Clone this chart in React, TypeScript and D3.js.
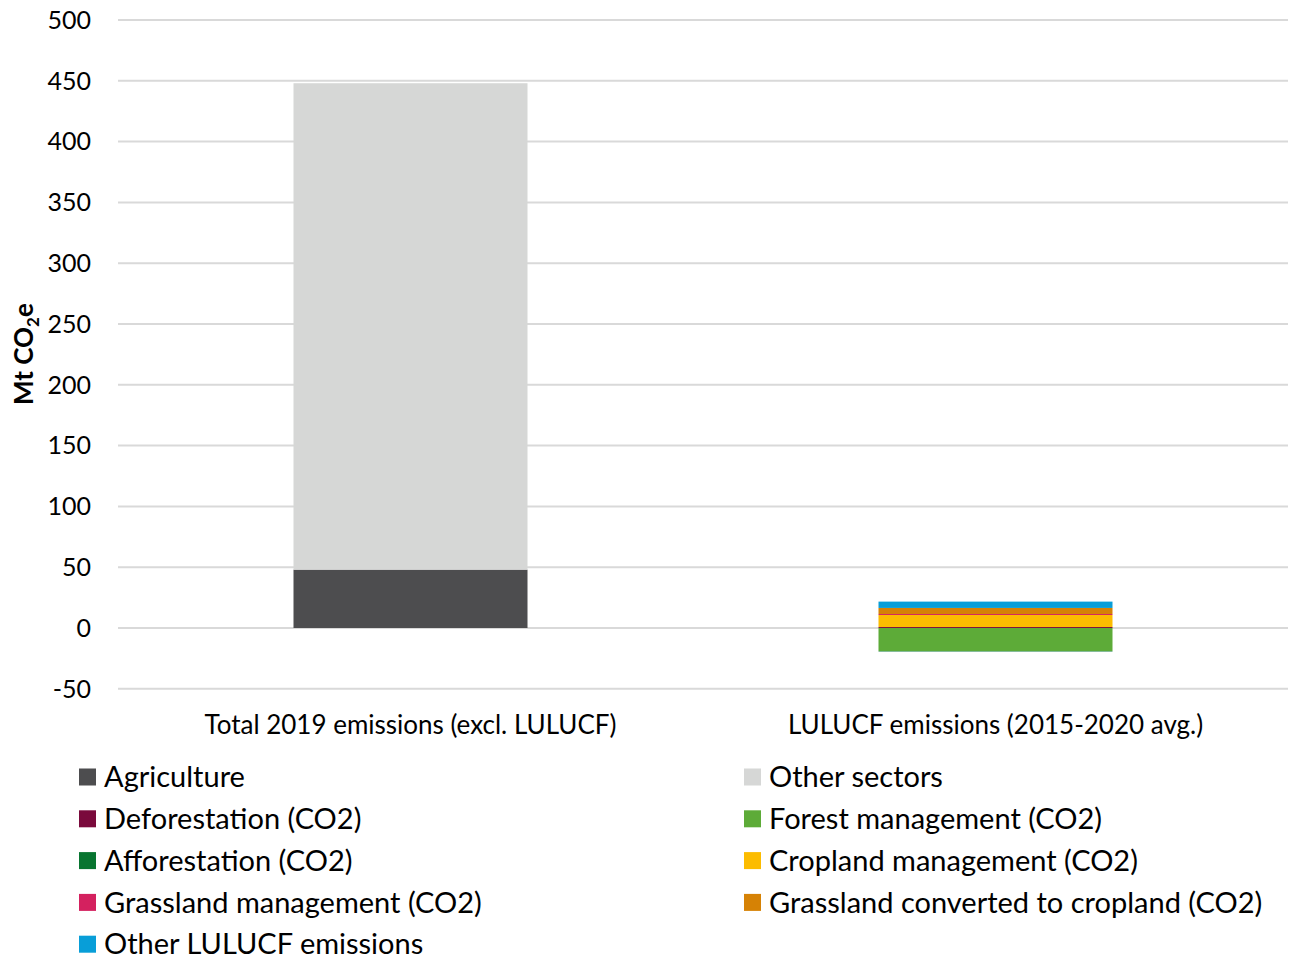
import React from "react";
import * as d3 from "d3";

const categories = ["Total 2019 emissions (excl. LULUCF)", "LULUCF emissions (2015-2020 avg.)"];

const seriesNames = [
  "Agriculture",
  "Other sectors",
  "Deforestation (CO2)",
  "Forest management (CO2)",
  "Afforestation (CO2)",
  "Cropland management (CO2)",
  "Grassland management (CO2)",
  "Grassland converted to cropland (CO2)",
  "Other LULUCF emissions",
];

const seriesColors = [
  "#4d4d4f",
  "#d6d7d6",
  "#7a0a3c",
  "#5dab38",
  "#087530",
  "#fcbc00",
  "#d4215f",
  "#d68205",
  "#089ed8",
];

// Values per category, Mt CO2e
const agriculture = [48, 0];
const otherSectors = [400, 0];
const deforestation = [0, 0.8];
const forestManagement = [0, -18.9];
const afforestation = [0, -0.3];
const croplandManagement = [0, 9.9];
const grasslandManagement = [0, 0.8];
const grasslandConverted = [0, 5];
const otherLulucf = [0, 5.2];

const yTicks = [-50, 0, 50, 100, 150, 200, 250, 300, 350, 400, 450, 500];

const seriesValues = [
  agriculture,
  otherSectors,
  deforestation,
  forestManagement,
  afforestation,
  croplandManagement,
  grasslandManagement,
  grasslandConverted,
  otherLulucf,
];

const W = 1296;
const H = 959;
const FONT = "Lato, 'Open Sans', sans-serif";

export default function App() {
  const left = 118;
  const right = 1288;
  const top = 20;
  const bottom = 688.8;

  const x = d3.scaleBand<string>().domain(categories).range([left, right]).paddingInner(0.6).paddingOuter(0.3);
  const y = d3.scaleLinear().domain([-50, 500]).range([bottom, top]);

  const rows = categories.map((c, i) => {
    const r: Record<string, number | string> = { category: c };
    seriesNames.forEach((s, j) => (r[s] = seriesValues[j][i]));
    return r;
  });

  const stack = d3
    .stack<Record<string, number | string>>()
    .keys(seriesNames)
    .value((d, k) => d[k] as number)
    .offset(d3.stackOffsetDiverging);
  const layers = stack(rows);

  return (
    <svg width={W} height={H} style={{ display: "block", position: "absolute", left: 0, top: 0 }}>
      <rect width={W} height={H} fill="#ffffff" />
      {yTicks.map((t) => (
        <g key={t}>
          <line x1={left} x2={right} y1={y(t)} y2={y(t)} stroke="#d9d9d9" strokeWidth={2} />
          <text
            x={91}
            y={y(t)}
            dy="0.35em"
            textAnchor="end"
            fontFamily={FONT}
            fontSize={25}
            fill="#000"
          >
            {t}
          </text>
        </g>
      ))}
      {layers.map((layer, j) =>
        layer.map((d, i) => {
          const v = seriesValues[j][i];
          if (!v) return null;
          const y0 = y(Math.max(d[0], d[1]));
          const y1 = y(Math.min(d[0], d[1]));
          return (
            <rect
              key={`${j}-${i}`}
              x={x(categories[i])}
              width={x.bandwidth()}
              y={y0}
              height={Math.max(0.5, y1 - y0)}
              fill={seriesColors[j]}
            />
          );
        })
      )}
      {categories.map((c) => (
        <text
          key={c}
          x={(x(c) ?? 0) + x.bandwidth() / 2}
          y={725}
          dy="0.35em"
          textAnchor="middle"
          fontFamily={FONT}
          fontSize={26}
          fill="#000"
        >
          {c}
        </text>
      ))}
      <text
        transform={`translate(24, ${y(250) + 30}) rotate(-90)`}
        textAnchor="middle"
        dy="0.35em"
        fontFamily={FONT}
        fontSize={26}
        fontWeight="bold"
        fill="#000"
      >
        Mt CO
        <tspan fontSize={17} dy="6">2</tspan>
        <tspan dy="-6">e</tspan>
      </text>
      {seriesNames.map((s, j) => {
        const col = j % 2;
        const row = Math.floor(j / 2);
        const lx = col === 0 ? 79 : 744;
        const ly = 777 + row * 41.8;
        return (
          <g key={s}>
            <rect x={lx} y={ly - 8.5} width={17} height={17} fill={seriesColors[j]} />
            <text x={lx + 25} y={ly} dy="0.35em" fontFamily={FONT} fontSize={29} fill="#000">
              {s}
            </text>
          </g>
        );
      })}
    </svg>
  );
}
